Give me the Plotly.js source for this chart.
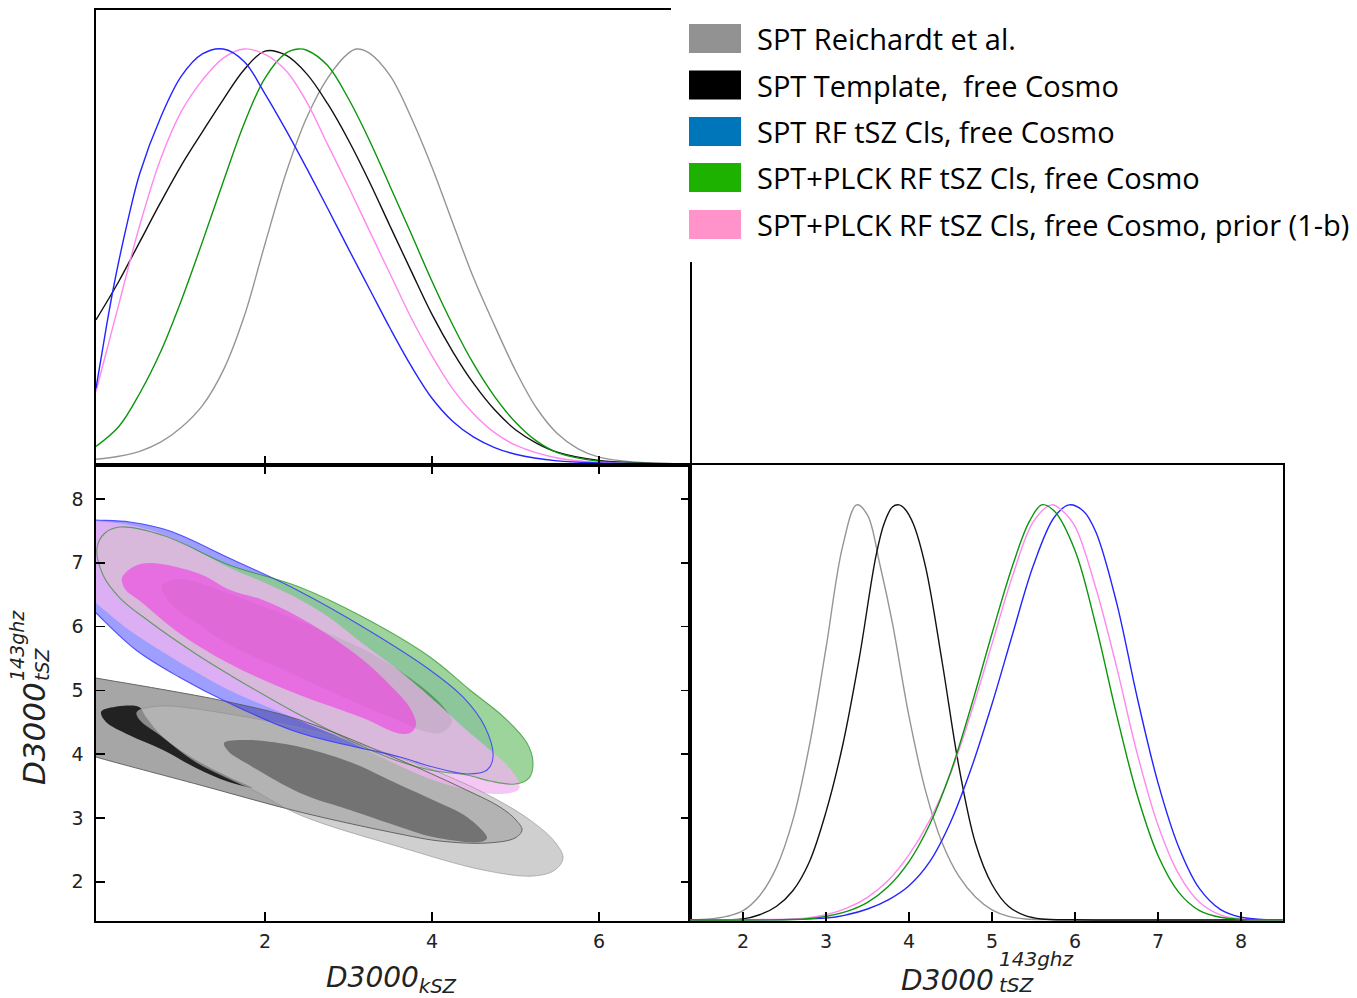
<!DOCTYPE html>
<html><head><meta charset="utf-8">
<script src="https://cdn.plot.ly/plotly-3.0.1.min.js"></script>
<style>html,body{margin:0;padding:0;background:#fff}</style>
</head><body><div id="chart" style="width:1357px;height:998px"></div>
<script>
// ---------- 1D marginals: D3000_kSZ (normalised peak = 1) ----------
const kszReichardtX = [-0.024,0.25,0.5,0.75,1.0,1.25,1.5,1.75,2.0,2.25,2.5,2.75,3.0,3.1,3.25,3.5,3.75,4.0,4.25,4.5,4.75,5.0,5.25,5.5,5.75,6.0,6.5,7.09];
const kszReichardtY = [0.011,0.018,0.03,0.052,0.088,0.14,0.225,0.355,0.53,0.70,0.835,0.93,0.99,1.0,0.99,0.935,0.835,0.715,0.58,0.447,0.333,0.225,0.135,0.073,0.036,0.016,0.003,0.0];
const kszTemplateX = [-0.024,0.25,0.5,0.75,1.0,1.25,1.5,1.75,2.0,2.25,2.5,2.75,3.0,3.25,3.5,3.75,4.0,4.25,4.5,4.75,5.0,5.25,5.5,6.0,6.5,7.09];
const kszTemplateY = [0.347,0.44,0.535,0.63,0.72,0.80,0.878,0.95,0.995,0.985,0.94,0.868,0.78,0.68,0.572,0.465,0.36,0.27,0.193,0.13,0.082,0.05,0.028,0.008,0.002,0.0];
const kszRFX = [-0.024,0.1,0.2,0.35,0.5,0.75,1.0,1.25,1.5,1.75,2.0,2.25,2.5,2.75,3.0,3.25,3.5,3.75,4.0,4.25,4.5,4.75,5.0,5.5,6.0,7.09];
const kszRFY = [0.182,0.33,0.44,0.58,0.70,0.835,0.935,0.988,1.0,0.97,0.892,0.805,0.712,0.616,0.518,0.422,0.326,0.236,0.158,0.102,0.064,0.039,0.023,0.007,0.002,0.0];
const kszPlckX = [-0.024,0.25,0.5,0.75,1.0,1.25,1.5,1.75,2.0,2.25,2.4,2.5,2.75,3.0,3.25,3.5,3.75,4.0,4.25,4.5,4.75,5.0,5.25,5.5,6.0,6.5,7.09];
const kszPlckY = [0.042,0.09,0.17,0.27,0.395,0.535,0.68,0.82,0.93,0.99,1.0,0.997,0.96,0.88,0.78,0.668,0.555,0.44,0.334,0.24,0.162,0.10,0.055,0.027,0.006,0.001,0.0];
const kszPriorX = [-0.024,0.1,0.25,0.5,0.75,1.0,1.25,1.5,1.75,2.0,2.25,2.5,2.75,3.0,3.25,3.5,3.75,4.0,4.25,4.5,4.75,5.0,5.5,6.0,7.09];
const kszPriorY = [0.174,0.27,0.385,0.575,0.735,0.85,0.925,0.978,1.0,0.987,0.948,0.872,0.77,0.668,0.562,0.457,0.352,0.26,0.18,0.12,0.075,0.045,0.014,0.003,0.0];

// ---------- 1D marginals: D3000_tSZ^143ghz ----------
const tszReichardtX = [1.36,1.6,1.8,2.0,2.2,2.4,2.6,2.8,3.0,3.2,3.37,3.5,3.65,3.8,4.0,4.2,4.4,4.6,4.8,5.0,5.2,5.4,5.8,8.5];
const tszReichardtY = [0.0,0.002,0.008,0.022,0.058,0.125,0.24,0.42,0.655,0.90,1.0,0.975,0.855,0.715,0.49,0.31,0.185,0.105,0.055,0.024,0.008,0.002,0.0,0.0];
const tszTemplateX = [1.36,2.0,2.2,2.4,2.6,2.8,3.0,3.2,3.4,3.6,3.7,3.8,3.88,3.95,4.05,4.2,4.4,4.6,4.8,5.0,5.2,5.4,5.6,6.0,8.5];
const tszTemplateY = [0.0,0.002,0.012,0.032,0.07,0.14,0.26,0.42,0.63,0.875,0.955,0.995,1.0,0.99,0.955,0.85,0.62,0.37,0.185,0.085,0.032,0.01,0.002,0.0,0.0];
const tszRFX = [1.36,3.0,3.25,3.5,3.75,4.0,4.25,4.5,4.75,5.0,5.25,5.5,5.75,5.93,6.1,6.25,6.5,6.75,7.0,7.25,7.5,7.75,8.0,8.25,8.5];
const tszRFY = [0.0,0.004,0.012,0.026,0.048,0.082,0.14,0.235,0.365,0.52,0.69,0.855,0.97,1.0,0.985,0.935,0.765,0.535,0.33,0.175,0.075,0.025,0.006,0.001,0.0];
const tszPlckX = [1.36,2.75,3.0,3.25,3.5,3.75,4.0,4.25,4.5,4.75,5.0,5.25,5.45,5.6,5.75,6.0,6.25,6.5,6.75,7.0,7.25,7.5,7.75,8.0,8.5];
const tszPlckY = [0.0,0.002,0.008,0.02,0.042,0.08,0.14,0.23,0.355,0.515,0.69,0.855,0.96,1.0,0.985,0.89,0.71,0.495,0.30,0.155,0.066,0.022,0.006,0.001,0.0];
const tszPriorX = [1.36,2.75,3.0,3.25,3.5,3.75,4.0,4.25,4.5,4.75,5.0,5.25,5.5,5.72,5.85,6.0,6.25,6.5,6.75,7.0,7.25,7.5,7.75,8.0,8.5];
const tszPriorY = [0.0,0.004,0.012,0.028,0.054,0.095,0.157,0.24,0.352,0.50,0.665,0.83,0.96,1.0,0.985,0.948,0.80,0.61,0.40,0.228,0.11,0.042,0.012,0.002,0.0];

// ---------- 2D contours (D3000_kSZ, D3000_tSZ) ----------
const tpl95K = [-0.216,-0.024,0.743,1.569,2.419,3.617,4.335,4.814,5.006,5.078,4.994,4.659,4.096,3.617,2.419,1.222,-0.024,-0.216];
const tpl95T = [5.241,5.194,5.022,4.818,4.536,3.909,3.486,3.172,2.969,2.812,2.687,2.608,2.639,2.749,3.094,3.517,3.956,4.034];
const tpl68K = [0.036,0.132,0.491,0.575,0.778,1.174,1.569,1.856,1.569,1.174,0.778,0.371,0.096];
const tpl68T = [4.661,4.724,4.740,4.583,4.270,3.909,3.643,3.470,3.564,3.784,4.066,4.301,4.505];
const rei95K = [0.467,0.743,1.569,2.419,2.970,4.012,4.695,5.174,5.473,5.569,5.473,5.210,4.611,3.617,2.419,1.856,1.174,0.743,0.503];
const rei95T = [4.661,4.755,4.630,4.411,4.223,3.752,3.345,2.969,2.624,2.373,2.185,2.091,2.185,2.545,3.047,3.439,3.878,4.301,4.536];
const rei68K = [1.509,1.772,2.371,3.018,3.617,4.012,4.419,4.659,4.575,4.012,3.617,3.018,2.419,1.772,1.569];
const rei68T = [4.176,4.223,4.129,3.878,3.517,3.282,3.016,2.687,2.624,2.702,2.859,3.125,3.392,3.862,4.034];
const rf95K = [-0.216,-0.024,0.383,0.862,1.569,2.383,3.174,3.976,4.371,4.635,4.731,4.659,4.419,4.012,3.617,2.419,1.569,0.970,0.455,-0.024,-0.216];
const rf95T = [7.687,7.671,7.639,7.498,7.075,6.574,5.994,5.320,4.897,4.426,3.956,3.752,3.690,3.799,3.956,4.332,4.803,5.210,5.633,6.213,6.464];
const plck95K = [-0.012,0.084,0.263,0.802,1.569,2.383,3.174,3.976,4.455,4.874,5.138,5.210,5.162,4.994,4.695,4.419,3.976,3.461,2.419,1.581,1.174,0.623,0.263,0.060];
const plck95T = [7.232,7.467,7.561,7.420,6.966,6.636,6.150,5.524,5.006,4.567,4.176,3.862,3.627,3.533,3.580,3.674,3.752,3.956,4.614,5.241,5.571,6.072,6.448,6.809];
const plck68K = [0.766,0.982,1.581,2.383,2.778,3.174,3.581,3.976,4.168,4.240,4.096,3.856,3.581,3.174,2.383,1.581,1.162,0.862];
const plck68T = [6.636,6.746,6.511,6.103,5.884,5.649,5.335,4.951,4.693,4.505,4.332,4.379,4.536,4.756,5.226,5.712,6.072,6.370];
const prior95K = [-0.216,-0.024,0.383,0.862,1.581,1.976,2.383,2.778,3.162,3.581,4.060,4.371,4.695,4.898,5.030,5.042,4.934,4.611,4.012,3.617,2.970,2.371,1.569,1.174,0.778,0.371,-0.024,-0.216];
const prior95T = [7.687,7.655,7.592,7.404,6.918,6.699,6.448,6.135,5.743,5.335,4.803,4.426,4.066,3.831,3.596,3.455,3.392,3.392,3.596,3.815,4.223,4.552,5.006,5.288,5.602,5.947,6.370,6.574];
const prior68K = [0.287,0.419,0.623,1.222,1.581,1.976,2.383,2.778,3.174,3.497,3.737,3.808,3.737,3.581,3.174,2.383,1.581,0.970,0.503,0.323];
const prior68T = [6.762,6.934,6.997,6.824,6.574,6.417,6.166,5.853,5.477,5.085,4.724,4.458,4.332,4.332,4.567,4.944,5.413,5.900,6.401,6.589];

// ---------- ticks & legend ----------
const kszTicks = [2, 4, 6];
const tszTicks = [2, 3, 4, 5, 6, 7, 8];
const legendLabels = ['SPT Reichardt et al.', 'SPT Template,  free Cosmo', 'SPT RF tSZ Cls, free Cosmo',
  'SPT+PLCK RF tSZ Cls, free Cosmo', 'SPT+PLCK RF tSZ Cls, free Cosmo, prior (1-b)'];
const legendColors = ['#929292', '#000000', '#0076ba', '#1db100', '#ff93ca'];

// ---------- build ----------
const W = 1357, H = 998;
const px = v => v / W, py = v => 1 - v / H;

function curve(x, y, color, xa, ya) {
  return {type:'scatter', mode:'lines', x:x, y:y, xaxis:xa, yaxis:ya, hoverinfo:'skip', showlegend:false,
    line:{color:color, width:1.4, shape:'spline', smoothing:1}};
}
function region(k, t, fill) {
  return {type:'scatter', mode:'lines', x:k.concat([k[0]]), y:t.concat([t[0]]), xaxis:'x2', yaxis:'y2',
    fill:'toself', fillcolor:fill, hoverinfo:'skip', showlegend:false,
    line:{width:0, color:'rgba(0,0,0,0)', shape:'spline', smoothing:1}};
}
function outline(k, t, color, w) {
  return {type:'scatter', mode:'lines', x:k.concat([k[0]]), y:t.concat([t[0]]), xaxis:'x2', yaxis:'y2',
    hoverinfo:'skip', showlegend:false, line:{width:w, color:color, shape:'spline', smoothing:1}};
}

const traces = [
  region(tpl95K, tpl95T, 'rgb(166,166,166)'),
  region(tpl68K, tpl68T, 'rgb(34,34,34)'),
  region(rei95K, rei95T, 'rgba(186,186,186,0.69)'),
  region(rei68K, rei68T, 'rgba(55,55,55,0.52)'),
  region(rf95K, rf95T, 'rgba(40,40,255,0.45)'),
  region(plck95K, plck95T, 'rgba(139,205,139,0.85)'),
  region(plck68K, plck68T, 'rgba(0,100,0,0.4)'),
  region(prior95K, prior95T, 'rgba(240,180,240,0.75)'),
  region(prior68K, prior68T, 'rgba(248,21,230,0.45)'),
  outline(tpl95K, tpl95T, 'rgba(90,90,90,0.9)', 1),
  outline(rei95K, rei95T, 'rgba(140,140,140,0.6)', 1),
  outline(rf95K, rf95T, 'rgba(50,50,255,0.8)', 1.1),
  outline(plck95K, plck95T, 'rgba(20,130,20,0.6)', 1.1),

  curve(kszReichardtX, kszReichardtY, '#959595', 'x', 'y'),
  curve(kszTemplateX, kszTemplateY, '#111111', 'x', 'y'),
  curve(kszPlckX, kszPlckY, '#0a960a', 'x', 'y'),
  curve(kszPriorX, kszPriorY, '#ff88f0', 'x', 'y'),
  curve(kszRFX, kszRFY, '#2424ff', 'x', 'y'),

  curve(tszReichardtX, tszReichardtY, '#959595', 'x3', 'y3'),
  curve(tszTemplateX, tszTemplateY, '#111111', 'x3', 'y3'),
  curve(tszRFX, tszRFY, '#2424ff', 'x3', 'y3'),
  curve(tszPriorX, tszPriorY, '#ff88f0', 'x3', 'y3'),
  curve(tszPlckX, tszPlckY, '#0a960a', 'x3', 'y3')
];

const tickFont = {family:'DejaVu Sans', size:19, color:'#222'};
const axBase = {showgrid:false, zeroline:false, showline:true, linecolor:'#000', linewidth:1.6,
  tickcolor:'#000', tickwidth:1.5, ticklen:9, tickfont:tickFont};

const kszRange = [-0.024, 7.09];
const tszRange = [1.386, 8.533];

const layout = {
  width:W, height:H, margin:{l:0,r:0,t:0,b:0}, paper_bgcolor:'#fff', plot_bgcolor:'rgba(0,0,0,0)',
  showlegend:false,
  xaxis: Object.assign({}, axBase, {domain:[px(96),px(690)], range:kszRange, anchor:'y', mirror:true,
    ticks:'inside', tickvals:kszTicks, showticklabels:false}),
  yaxis: Object.assign({}, axBase, {domain:[py(465),py(10)], range:[-0.003,1.094], anchor:'x', mirror:true,
    ticks:'', showticklabels:false}),
  xaxis2: Object.assign({}, axBase, {domain:[px(96),px(690)], range:kszRange, anchor:'y2', mirror:'ticks',
    ticks:'inside', tickvals:kszTicks, ticktext:kszTicks.map(String), ticklabelstandoff:3}),
  yaxis2: Object.assign({}, axBase, {domain:[py(921),py(465)], range:tszRange, anchor:'x2', mirror:'ticks',
    ticks:'inside', tickvals:tszTicks, ticktext:tszTicks.map(String), ticklabelstandoff:7}),
  xaxis3: Object.assign({}, axBase, {domain:[px(690),px(1283)], range:[1.361,8.506], anchor:'y3', mirror:true,
    ticks:'inside', tickvals:tszTicks, ticktext:tszTicks.map(String), ticklabelstandoff:3}),
  yaxis3: Object.assign({}, axBase, {domain:[py(921),py(465)], range:[-0.003,1.096], anchor:'x3', mirror:true,
    ticks:'', showticklabels:false}),
  shapes: [
    {type:'rect', xref:'paper', yref:'paper', x0:px(671), x1:1, y0:py(262), y1:1, layer:'above',
      fillcolor:'#fff', line:{width:0}}
  ],
  annotations: []
};

const rowY = [38.5, 85, 131.5, 177.5, 224.5];
legendLabels.forEach((lab, i) => {
  layout.shapes.push({type:'rect', xref:'paper', yref:'paper', x0:px(689), x1:px(741),
    y0:py(rowY[i]+14.5), y1:py(rowY[i]-14.5), layer:'above', fillcolor:legendColors[i], line:{width:0}});
  layout.annotations.push({xref:'paper', yref:'paper', x:px(755), y:py(rowY[i]), xanchor:'left', yanchor:'middle',
    showarrow:false, text:lab, font:{family:'Open Sans', size:29, color:'#000'}});
});

const titleFont = s => ({family:'DejaVu Sans', size:s, color:'#222'});
layout.annotations.push(
  {xref:'paper', yref:'paper', x:px(391), y:py(979), xanchor:'center', yanchor:'middle', showarrow:false,
    text:'<i>D3000<sub>kSZ</sub></i>', font:titleFont(28)},
  {xref:'paper', yref:'paper', x:px(996), y:py(980), xanchor:'right', yanchor:'middle', showarrow:false,
    text:'<i>D3000</i>', font:titleFont(28)},
  {xref:'paper', yref:'paper', x:px(997), y:py(972), xanchor:'left', yanchor:'middle', align:'left', showarrow:false,
    text:'<i>143ghz<br>tSZ</i>', font:titleFont(20)},
  {xref:'paper', yref:'paper', x:px(34), y:py(734), xanchor:'center', yanchor:'middle', showarrow:false,
    textangle:-90, text:'<i>D3000</i>', font:titleFont(31)},
  {xref:'paper', yref:'paper', x:px(29), y:py(646), xanchor:'center', yanchor:'middle', align:'left', showarrow:false,
    textangle:-90, text:'<i>143ghz<br>tSZ</i>', font:titleFont(19)}
);

Plotly.newPlot('chart', traces, layout, {staticPlot:true, displayModeBar:false});
</script></body></html>
